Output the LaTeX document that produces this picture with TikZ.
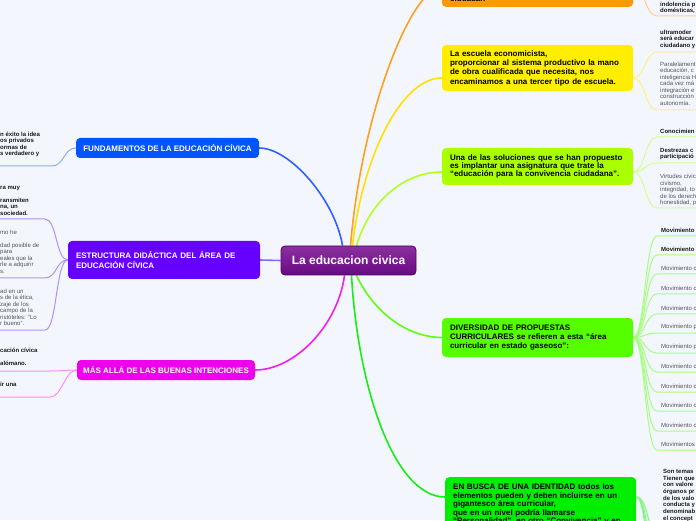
\documentclass[tikz,border=0pt]{standalone}
\usepackage{fontspec}
\setmainfont{Liberation Sans}
\usetikzlibrary{backgrounds}
\newcommand{\lns}[1]{\begin{tabular}{@{}l@{}}#1\end{tabular}}
\definecolor{bgc}{HTML}{F4F6FE}
\definecolor{cpurA}{HTML}{8C2FA0}
\definecolor{cpurB}{HTML}{680A80}
\definecolor{cbord}{HTML}{4E0063}
\definecolor{fundc}{HTML}{0055FF}
\definecolor{estrc}{HTML}{6600FF}
\definecolor{masc}{HTML}{EE00EE}
\definecolor{orac}{HTML}{FF9900}
\definecolor{yelc}{HTML}{FFEE00}
\definecolor{limc}{HTML}{AAFF00}
\definecolor{divc}{HTML}{55FF00}
\definecolor{buscc}{HTML}{00EE00}
\definecolor{fundm}{HTML}{3060FF}
\definecolor{fundl}{HTML}{8EAAFF}
\definecolor{estrm}{HTML}{9166FF}
\definecolor{estrl}{HTML}{B190FF}
\definecolor{masm}{HTML}{F020F0}
\definecolor{masl}{HTML}{FF8CFF}
\definecolor{oram}{HTML}{FFA020}
\definecolor{oral}{HTML}{FFCF90}
\definecolor{yelm}{HTML}{FFE100}
\definecolor{yell}{HTML}{FFF080}
\definecolor{limm}{HTML}{B2FF22}
\definecolor{liml}{HTML}{D4FF90}
\definecolor{divm}{HTML}{5CFF10}
\definecolor{divl}{HTML}{A6FF80}
\definecolor{buscm}{HTML}{16EE16}
\definecolor{buscl}{HTML}{80F880}
\definecolor{txtd}{HTML}{1A1A1A}
\definecolor{txtg}{HTML}{555555}
\begin{document}
\begin{tikzpicture}[x=1pt,y=1pt,
  box/.style={rounded corners=4pt,inner xsep=8pt,inner ysep=0pt,text width=175pt,minimum width=191pt,align=left,font=\bfseries\fontsize{8}{9.3}\selectfont,text=black},
  tag/.style={rounded corners=4pt,inner sep=0pt,minimum height=20pt,font=\bfseries\fontsize{8}{9.3}\selectfont,text=white},
  chb/.style={inner sep=0pt,anchor=west,font=\bfseries\fontsize{6}{6.5}\selectfont,text=txtd},
  chg/.style={inner sep=0pt,anchor=west,font=\fontsize{6}{6.5}\selectfont,text=txtg},
  mainln/.style={line width=1.6pt},
  subln/.style={line width=1pt},
  fanr/.style={out=0,in=180,distance=12pt},
  fanl/.style={out=180,in=0,distance=12pt}]
\useasboundingbox (0,0) rectangle (696,520);
\begin{scope}[on background layer]
\fill[bgc] (0,0) rectangle (696,520);
\end{scope}

% central
\node[draw=cbord,line width=0.8pt,rounded corners=4pt,top color=cpurA,bottom color=cpurB,minimum width=135pt,minimum height=29pt,text=white,font=\bfseries\fontsize{12}{14}\selectfont] (c) at (348.5,259.5) {La educacion civica};

% left branches
\node[tag,fill=fundc,minimum width=183pt] (fund) at (167.5,372) {FUNDAMENTOS DE LA EDUCACIÓN CÍVICA};
\node[tag,fill=estrc,minimum width=192pt,minimum height=38pt,text width=176pt,inner xsep=8pt,align=left] (estr) at (164,260) {ESTRUCTURA DIDÁCTICA DEL ÁREA DE\\EDUCACIÓN CÍVICA};
\node[tag,fill=masc,minimum width=178pt] (mas) at (166,150) {MÁS ALLÁ DE LAS BUENAS INTENCIONES};

% right branches
\node[box,fill=orac,minimum height=40pt] (ora) at (537.5,533) {};
\node[anchor=base west,inner sep=0pt,font=\bfseries\fontsize{8}{9.3}\selectfont] (oratx) at (450,518) {ciudadan};
\node[box,fill=yelc,minimum height=46pt] (yel) at (537.5,452) {La escuela economicista,\\proporcionar al sistema productivo la mano\\de obra cualificada que necesita, nos\\encaminamos a una tercer tipo de escuela.};
\node[box,fill=limc,minimum height=37pt,font=\bfseries\fontsize{8}{8.4}\selectfont] (lim) at (537.5,353.5) {Una de las soluciones que se han propuesto\\es implantar una asignatura que trate la\\“educación para la convivencia ciudadana”.};
\node[box,fill=divc,minimum height=39pt,font=\bfseries\fontsize{8}{8.6}\selectfont] (div) at (537.5,182.5) {DIVERSIDAD DE PROPUESTAS\\CURRICULARES se refieren a esta “área\\curricular en estado gaseoso”:};
\node[box,fill=buscc,anchor=north west,inner ysep=7pt,font=\bfseries\fontsize{8}{8.4}\selectfont] (busc) at (445,43) {EN BUSCA DE UNA IDENTIDAD todos los\\elementos pueden y deben incluirse en un\\gigantesco área curricular,\\que en un nivel podría llamarse\\“Personalidad”, en otro “Convivencia” y en};

% left child texts
\node[chb] (fch) at (0,375.5) {\lns{n éxito la idea\\os privados\\ormas de\\s verdadero y}};
\node[chb] (ea) at (0,319) {\lns{ra muy\\[6.5pt]ransmiten\\na, un\\sociedad.}};
\node[chg] (eb) at (0,267.5) {\lns{mo he\\[6.5pt]dad posible de\\para\\eales que la\\rle a adquirir\\s.}};
\node[chg] (ec) at (0,212) {\lns{ad en un\\s de la ética,\\zaje de los\\campo de la\\ristóteles: "Lo\\r bueno".}};
\node[chb] (md) at (0,162.5) {\lns{cación cívica\\[6.5pt]alómano.}};
\node[chb] (me) at (0,136) {ir una};

% right child texts
\node[chb] (oc) at (660,511.75) {\lns{indolencia p\\domésticas,}};
\node[chb] (y1) at (660,480.5) {\lns{ultramoder\\será educar\\ciudadano y}};
\node[chg] (y2) at (660,435.5) {\lns{Paralelament\\educación, c\\inteligencia H\\cada vez má\\integración e\\construcción\\autonomía.}};
\node[chb] (l1) at (660,389) {Conocimien};
\node[chb] (l2) at (660,366) {\lns{Destrezas c\\participació}};
\node[chg] (l3) at (660,329.75) {\lns{Virtudes cívic\\civismo,\\integridad, to\\de los derech\\honestidad, p}};
\node[chb] (d1) at (661,290) {Movimiento};
\node[chb] (d2) at (661,271) {Movimiento};
\node[chg] (d3) at (661,252) {Movimiento c};
\node[chg] (d4) at (661,232) {Movimiento c};
\node[chg] (d5) at (661,212) {Movimiento c};
\node[chg] (d6) at (661,193) {Movimiento p};
\node[chg] (d7) at (661,173) {Movimiento p};
\node[chg] (d8) at (661,154) {Movimiento c};
\node[chg] (d9) at (661,134) {Movimiento c};
\node[chg] (d10) at (661,115) {Movimiento c};
\node[chg] (d11) at (661,95) {Movimiento c};
\node[chg] (d12) at (661,76) {Movimientos};
\node[chb,font=\bfseries\fontsize{6}{6.7}\selectfont] (bc) at (663,24.5) {\lns{Son temas\\Tienen que\\con valore\\órganos pr\\de los valo\\conducta y\\denominab\\el concept}};

% line end coordinates
\coordinate (fchL) at (52,354); \coordinate (fchE) at (0,354);
\coordinate (eaL) at (45,301); \coordinate (eaE) at (0,301);
\coordinate (ebL) at (45,242); \coordinate (ebE) at (0,242);
\coordinate (ecL) at (45,190); \coordinate (ecE) at (0,190);
\coordinate (mdL) at (50,149); \coordinate (mdE) at (0,149);
\coordinate (meL) at (50,123); \coordinate (meE) at (0,123);
\coordinate (ocL) at (657,504); \coordinate (ocE) at (696,504);
\coordinate (y1L) at (657,468); \coordinate (y1E) at (696,468);
\coordinate (y2L) at (657,410); \coordinate (y2E) at (696,410);
\coordinate (l1L) at (657,383); \coordinate (l1E) at (696,383);
\coordinate (l2L) at (657,357); \coordinate (l2E) at (696,357);
\coordinate (l3L) at (657,312); \coordinate (l3E) at (696,312);
\coordinate (bcA) at (657,-8);
\coordinate (bcB) at (658,-35);
\coordinate (bcC) at (659,-65);
\coordinate (bcD) at (660,-95);

\begin{scope}[on background layer]
% main connectors
\draw[mainln,fundm] ([xshift=-6pt]c.north) .. controls (335,320) and (290,372) .. (fund.east);
\draw[mainln,estrm] (c.west) -- (estr.east);
\draw[mainln,masm] ([xshift=-4pt]c.south) .. controls (338,195) and (295,150) .. (mas.east);
\draw[mainln,oram] ([xshift=2pt]c.north) .. controls (362,410) and (412,533) .. (ora.west);
\draw[mainln,yelm] ([xshift=4pt]c.north) .. controls (362,360) and (400,442) .. ([yshift=-10pt]yel.west);
\draw[mainln,limm] ([xshift=8pt]c.north) .. controls (370,320) and (405,348) .. ([yshift=-5.5pt]lim.west);
\draw[mainln,divm] ([xshift=8pt]c.south) .. controls (375,205) and (410,182.5) .. (div.west);
\draw[mainln,buscm] ([xshift=3pt]c.south) .. controls (358,130) and (395,23) .. ([yshift=-20pt]busc.north west);

% left children
\draw[subln,fundl] (fund.west) to[fanl] (fchL) -- (fchE);
\draw[subln,estrl] (estr.west) to[fanl] (eaL) -- (eaE);
\draw[subln,estrl] (estr.west) to[fanl] (ebL) -- (ebE);
\draw[subln,estrl] (estr.west) to[fanl] (ecL) -- (ecE);
\draw[subln,masl] (mas.west) to[fanl] (mdL) -- (mdE);
\draw[subln,masl] (mas.west) to[fanl] (meL) -- (meE);

% right children
\draw[subln,oral] (ora.east) to[fanr] (ocL) -- (ocE);
\draw[subln,yell] ([yshift=-10pt]yel.east) to[fanr] (y1L) -- (y1E);
\draw[subln,yell] ([yshift=-10pt]yel.east) to[fanr] (y2L) -- (y2E);
\draw[subln,liml] ([yshift=-5.5pt]lim.east) to[fanr] (l1L) -- (l1E);
\draw[subln,liml] ([yshift=-5.5pt]lim.east) to[fanr] (l2L) -- (l2E);
\draw[subln,liml] ([yshift=-5.5pt]lim.east) to[fanr] (l3L) -- (l3E);
\foreach \yy in {284,265,246,226,206,187,167,148,128,109,89,70}{
  \draw[subln,divl] (div.east) to[fanr] (657,\yy) -- (696,\yy);
}
\draw[subln,buscl] ([yshift=-20pt]busc.north east) to[fanr] (bcA);
\draw[subln,buscl] ([yshift=-20pt]busc.north east) to[fanr] (bcB);
\draw[subln,buscl] ([yshift=-20pt]busc.north east) to[fanr] (bcC);
\draw[subln,buscl] ([yshift=-20pt]busc.north east) to[fanr] (bcD);
\end{scope}
\end{tikzpicture}
\end{document}
